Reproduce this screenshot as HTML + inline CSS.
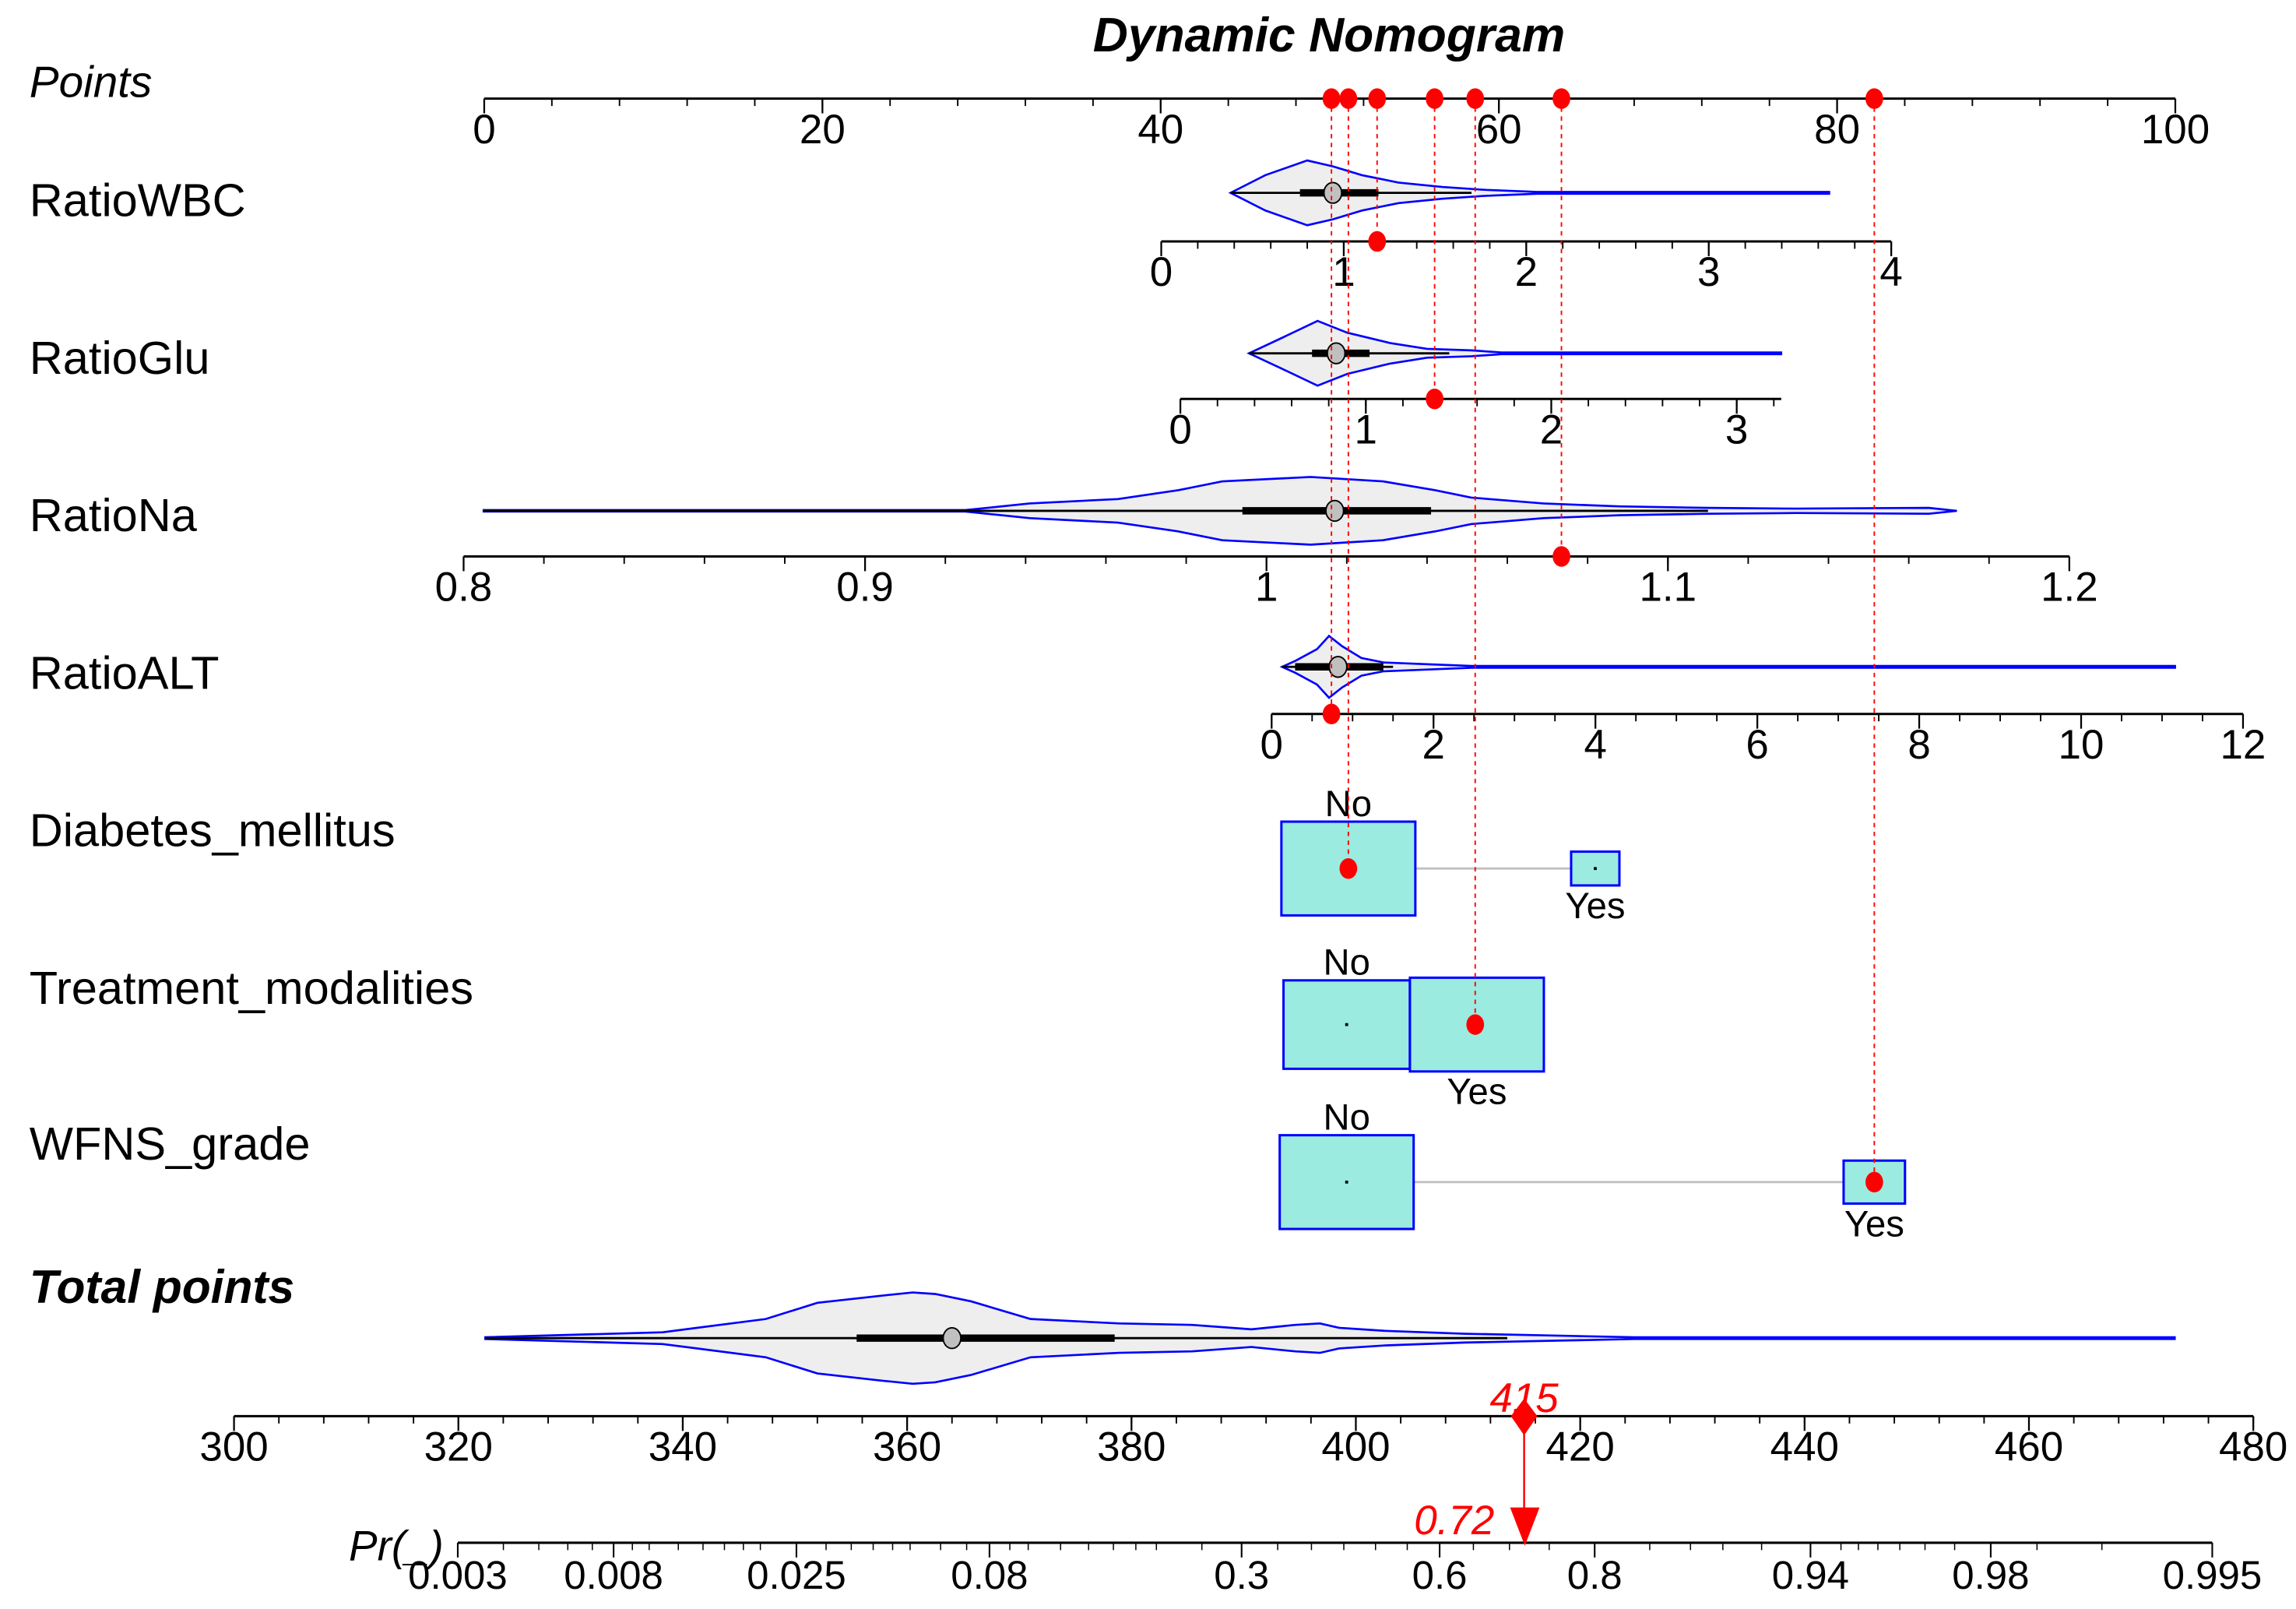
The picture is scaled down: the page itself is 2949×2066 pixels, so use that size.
<!DOCTYPE html>
<html><head><meta charset="utf-8"><style>
html,body{margin:0;padding:0;background:#fff}
svg{display:block}
text{font-family:"Liberation Sans",Arial,sans-serif}
</style></head><body>
<svg id="chart" width="2949" height="2066" viewBox="0 0 1560 1093" preserveAspectRatio="none" xmlns="http://www.w3.org/2000/svg"></svg>
<script>
// ---------- data ----------
const pointTicks=[0,20,40,60,80,100];
const selectedPoints=[50.1,51.1,52.8,56.2,58.6,63.7,82.2];
const wbcTicks=[0,1,2,3,4];
const gluTicks=[0,1,2,3];
const naTicks=[0.8,0.9,1,1.1,1.2];
const altTicks=[0,2,4,6,8,10,12];
const totalTicks=[300,320,340,360,380,400,420,440,460,480];
const probTicks=[0.003,0.008,0.025,0.08,0.3,0.6,0.8,0.94,0.98,0.995];
const probMinor=[0.003,0.004,0.005,0.006,0.007,0.008,0.009,0.01,0.012,0.014,0.016,0.018,0.02,0.025,0.03,0.035,0.04,0.045,0.05,0.06,0.07,0.08,0.09,0.1,0.12,0.14,0.16,0.18,0.2,0.25,0.3,0.35,0.4,0.45,0.5,0.55,0.6,0.65,0.7,0.75,0.8,0.85,0.88,0.9,0.92,0.94,0.95,0.955,0.96,0.965,0.97,0.975,0.98,0.985,0.99,0.995];
const wbcX=[0.38,0.57,0.80,0.94,1.10,1.30,1.54,1.78,2.06,3.66];
const wbcW=[0,12,22,18,12,7,4,2,0.6,0.6];
const wbcBox=[0.76,0.94,1.19,0.38,1.70];
const gluX=[0.37,0.54,0.74,0.90,1.13,1.33,1.57,1.73,3.24];
const gluW=[0,10,22,14,7,3,2,0.6,0.6];
const gluBox=[0.71,0.84,1.02,0.37,1.45];
const naX=[0.805,0.925,0.934,0.941,0.963,0.978,0.989,1.011,1.029,1.042,1.051,1.069,1.088,1.110,1.132,1.165,1.172];
const naW=[0.5,0.5,3,5,8,14,20,23,20,14,9,5,3,2,1.5,2,0];
const naBox=[0.994,1.017,1.041,0.805,1.11];
const altX=[0.13,0.29,0.56,0.71,0.87,1.11,1.38,2.47,11.16];
const altW=[0,4,12,21,14,6,3,0.6,0.6];
const altBox=[0.29,0.82,1.38,0.13,1.5];
const totX=[322.4,338.2,347.4,352,357.9,360.5,362.5,365.7,371,378.9,385.4,390.7,394.6,396.8,398.5,402.5,409.7,416.2,424.8,473];
const totW=[0.6,4,13,24,29,31,30,25,13,10,9,6,9,10,7,5,3,2,0.6,0.6];
const totBox=[355.5,364,378.5,322.4,413.5];
const dmCats=["No","Yes"], dmPts=[51.1,65.7], dmFreq=[1,0.13];
const trCats=["No","Yes"], trPts=[51.0,58.7], trFreq=[0.89,1];
const wfCats=["No","Yes"], wfPts=[51.0,82.2], wfFreq=[1,0.21];
const selTotal=415, selProb=0.72;

// ---------- helpers ----------
const svg=document.getElementById('chart');
const NS='http://www.w3.org/2000/svg';
function el(tag,attrs,parent){const e=document.createElementNS(NS,tag);for(const k in attrs)e.setAttribute(k,attrs[k]);(parent||svg).appendChild(e);return e;}
function txt(s,x,y,size,extra,parent){const t=el('text',Object.assign({x:x,y:y,'font-size':size,'text-anchor':'middle','dominant-baseline':'central',fill:'#000'},extra||{}),parent);t.textContent=s;return t;}
const ptX=p=>329+p*11.49;
const wbcS=v=>789+v*124;
const gluS=v=>802+v*126;
const naS=v=>315+(v-0.8)*2727.5;
const altS=v=>864+v*55;
const totS=t=>159+(t-300)*1372/180;
const logit=p=>Math.log(p/(1-p));
const prS=p=>934.6+logit(p)*107.4;

function axis(name,scale,lo,hi,step,majors,y,fmt){
  const g=el('g',{});
  
  
  el('line',{x1:scale(lo),x2:scale(hi),y1:y,y2:y,stroke:'#000','stroke-width':1.6},g);
  const n=Math.round((hi-lo)/step);
  for(let i=0;i<=n;i++){const v=lo+i*step;el('line',{x1:scale(v),x2:scale(v),y1:y,y2:y+5,stroke:'#000','stroke-width':1},g);}
  majors.forEach(v=>{el('line',{x1:scale(v),x2:scale(v),y1:y,y2:y+10,stroke:'#000','stroke-width':1.2},g);
    const t=txt(fmt?fmt(v):String(v),scale(v),y+21,28,{},g);
    
    });
  return g;
}
function violin(name,scale,xs,ws,box,cy){
  const g=el('g',{});
  
  
  let top='',bot='';
  xs.forEach((v,i)=>{top+=(i?'L':'M')+scale(v).toFixed(1)+','+(cy-ws[i]).toFixed(1);});
  for(let i=xs.length-1;i>=0;i--)bot+='L'+scale(xs[i]).toFixed(1)+','+(cy+ws[i]).toFixed(1);
  el('path',{d:top+bot+'Z',fill:'#eeeeee',stroke:'#0000ff','stroke-width':1.4},g);
  el('line',{x1:scale(box[3]),x2:scale(box[4]),y1:cy,y2:cy,stroke:'#000','stroke-width':1.5},g);
  el('line',{x1:scale(box[0]),x2:scale(box[2]),y1:cy,y2:cy,stroke:'#000','stroke-width':5},g);
  el('ellipse',{cx:scale(box[1]),cy:cy,rx:6,ry:7,fill:'#c0c0c0',stroke:'#000','stroke-width':1},g);
  return g;
}
function cats(name,cs,pts,freq,cy){
  const g=el('g',{});
  
  
  const x0=ptX(pts[0]),x1=ptX(pts[1]);
  el('line',{x1:x0,x2:x1,y1:cy,y2:cy,stroke:'#c0c0c0','stroke-width':1.5},g);
  cs.forEach((c,i)=>{
    const w=91*Math.sqrt(freq[i]),h=w*0.7,x=ptX(pts[i]);
    const r=el('rect',{x:x-w/2,y:cy-h/2,width:w,height:h,fill:'#9bebe0',stroke:'#0000ff','stroke-width':1.6},g);
    
    
    el('rect',{x:x-1,y:cy-1,width:2,height:2,fill:'#000'},g);
    const ly=i===0?cy-h/2-12:cy+h/2+14;
    const t=txt(c,x,ly,25,{},g);
    
    
  });
}

// ---------- title & row labels ----------
let t=txt('Dynamic Nomogram',903,24,33,{'font-weight':'bold','font-style':'italic'});

const rowLabels=[['Points',56,true],['RatioWBC',136],['RatioGlu',243],['RatioNa',350],['RatioALT',457],['Diabetes_mellitus',564],['Treatment_modalities',671],['WFNS_grade',777]];
rowLabels.forEach(r=>{const e=txt(r[0],20,r[1],r[2]?30:31.5,{'text-anchor':'start','font-style':r[2]?'italic':'normal'});
  
  });
t=txt('Total points',20,874,32,{'text-anchor':'start','font-weight':'bold','font-style':'italic'});


// ---------- axes ----------
axis('points-axis',ptX,0,100,4,pointTicks,67);
axis('ratiowbc-axis',wbcS,0,4,0.2,wbcTicks,164);
axis('ratioglu-axis',gluS,0,3.24,0.2,gluTicks,271);
axis('rationa-axis',naS,0.8,1.2,0.02,naTicks,378);
axis('ratioalt-axis',altS,0,12,0.5,altTicks,485);
axis('total-points-axis',totS,300,480,4,totalTicks,962);

// probability axis
const pg=el('g',{});


el('line',{x1:prS(0.003),x2:prS(0.995),y1:1048,y2:1048,stroke:'#000','stroke-width':1.6},pg);
probMinor.forEach(p=>el('line',{x1:prS(p),x2:prS(p),y1:1048,y2:1053,stroke:'#000','stroke-width':0.8},pg));
probTicks.forEach(p=>{el('line',{x1:prS(p),x2:prS(p),y1:1048,y2:1058,stroke:'#000','stroke-width':1.1},pg);
  const e=txt(String(p),prS(p),1070,27,{},pg);
  });
t=txt('Pr(_)',237,1050,29,{'text-anchor':'start','font-style':'italic'});


// ---------- violins ----------
violin('ratiowbc-violin',wbcS,wbcX,wbcW,wbcBox,131);
violin('ratioglu-violin',gluS,gluX,gluW,gluBox,240);
violin('rationa-violin',naS,naX,naW,naBox,347);
violin('ratioalt-violin',altS,altX,altW,altBox,453);
violin('total-points-violin',totS,totX,totW,totBox,909);

// ---------- categorical ----------
cats('diabetes-boxes',dmCats,dmPts,dmFreq,590);
cats('treatment-boxes',trCats,trPts,trFreq,696);
cats('wfns-boxes',wfCats,wfPts,wfFreq,803);

// ---------- selected values (red) ----------
const sel=[[selectedPoints[0],485],[selectedPoints[1],590],[selectedPoints[2],164],[selectedPoints[3],271],[selectedPoints[4],696],[selectedPoints[5],378],[selectedPoints[6],803]];
sel.forEach(s=>{
  const x=ptX(s[0]);
  const l=el('line',{x1:x,x2:x,y1:67,y2:s[1],stroke:'#ff0000','stroke-width':1,'stroke-dasharray':'3,3'});
  
  const d1=el('ellipse',{cx:x,cy:67,rx:6,ry:7,fill:'#ff0000'});
  
  const d2=el('ellipse',{cx:x,cy:s[1],rx:6,ry:7,fill:'#ff0000'});
  
});
const tx=totS(selTotal);
let e=el('line',{x1:tx,x2:tx,y1:962,y2:1030,stroke:'#ff0000','stroke-width':1.3});

e=el('polygon',{points:`${tx},${950} ${tx+9},${962} ${tx},${975} ${tx-9},${962}`,fill:'#ff0000'});

const px=prS(selProb);
e=el('polygon',{points:`${px-10},${1024} ${px+10},${1024} ${px},${1050}`,fill:'#ff0000'});

e=txt(String(selTotal),tx,950,28,{fill:'#ff0000','font-style':'italic'});

e=txt(String(selProb),px-48,1033,28,{fill:'#ff0000','font-style':'italic'});

</script>
</body></html>
